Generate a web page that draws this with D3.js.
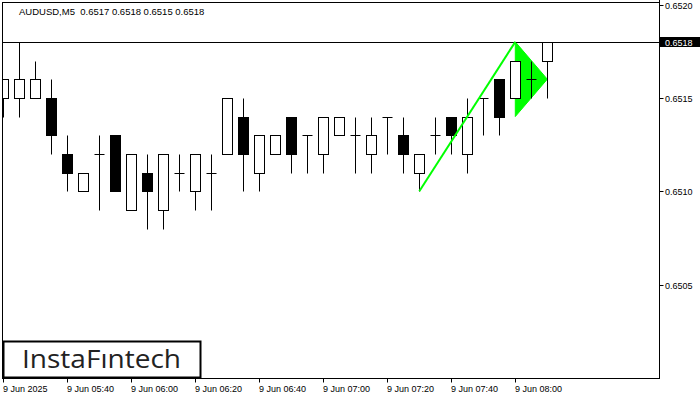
<!DOCTYPE html>
<html><head><meta charset="utf-8">
<script src="https://cdn.jsdelivr.net/npm/d3@7"></script>
<style>body{margin:0;background:#fff}svg{display:block}</style>
</head><body>
<svg id="c" width="700" height="400"></svg>
<script>
const times = ["05:20","05:25","05:30","05:35","05:40","05:45","05:50","05:55","06:00","06:05","06:10","06:15","06:20","06:25","06:30","06:35","06:40","06:45","06:50","06:55","07:00","07:05","07:10","07:15","07:20","07:25","07:30","07:35","07:40","07:45","07:50","07:55","08:00","08:05","08:10"];
const opens  = [0.6515,0.6515,0.6515,0.6515,0.6512,0.6510,0.6512,0.6513,0.6509,0.6511,0.6509,0.6511,0.6510,0.6511,0.6512,0.6514,0.6511,0.6512,0.6514,0.6513,0.6512,0.6513,0.6513,0.6512,0.6514,0.6513,0.6511,0.6513,0.6514,0.6512,0.6515,0.6516,0.6515,0.6516,0.6517];
const highs  = [0.6516,0.6518,0.6517,0.6516,0.6513,0.6511,0.6513,0.6513,0.6512,0.6512,0.6512,0.6512,0.6512,0.6512,0.6515,0.6515,0.6513,0.6513,0.6514,0.6513,0.6514,0.6514,0.6514,0.6514,0.6514,0.6514,0.6512,0.6514,0.6514,0.6515,0.6515,0.6516,0.6517,0.6517,0.6518];
const lows   = [0.6514,0.6514,0.6515,0.6512,0.6510,0.6510,0.6509,0.6510,0.6509,0.6508,0.6508,0.6510,0.6509,0.6509,0.6512,0.6510,0.6510,0.6512,0.6511,0.6511,0.6511,0.6513,0.6511,0.6511,0.6512,0.6511,0.6510,0.6512,0.6512,0.6511,0.6513,0.6513,0.6515,0.6515,0.6515];
const closes = [0.6516,0.6516,0.6516,0.6513,0.6511,0.6511,0.6512,0.6510,0.6512,0.6510,0.6512,0.6511,0.6512,0.6511,0.6515,0.6512,0.6513,0.6513,0.6512,0.6513,0.6514,0.6514,0.6513,0.6513,0.6514,0.6512,0.6512,0.6513,0.6513,0.6514,0.6515,0.6514,0.6517,0.6516,0.6518];
const yTicks = [0.6505,0.6510,0.6515,0.6520];
const xTickIdx = [0,4,8,12,16,20,24,28,32];
const xTickLabels = ["9 Jun 2025","9 Jun 05:40","9 Jun 06:00","9 Jun 06:20","9 Jun 06:40","9 Jun 07:00","9 Jun 07:20","9 Jun 07:40","9 Jun 08:00"];
const title = "AUDUSD,M5  0.6517 0.6518 0.6515 0.6518";
const lastPrice = 0.6518;
const poleStart = {i:26, p:0.6510};
const poleEnd = {i:32, p:0.6518};
const pennant = [{i:32,p:0.6518},{i:32,p:0.6514},{i:34,p:0.6516}];

const svg = d3.select("#c");
const L = 2.5, R = 659.5, T = 2.5, B = 378.5;
const x = d3.scaleLinear().domain([0, 34]).range([3.3, 547.3]);
const y = d3.scaleLinear().domain([0.6500, 0.6520]).range([378, 4.5]);
const font = "'Liberation Sans', Arial, sans-serif";

svg.append("defs").append("clipPath").attr("id","pc")
  .append("rect").attr("x", 3).attr("y", 3).attr("width", R - 3).attr("height", B - 3);

// frame
svg.append("rect").attr("x", L).attr("y", T).attr("width", R - L).attr("height", B - T)
  .attr("fill", "#fff").attr("stroke", "#000").attr("stroke-width", 1);

const g = svg.append("g").attr("clip-path", "url(#pc)");

// pennant triangle (background)
g.append("path")
  .attr("d", d3.line().x(d => x(d.i)).y(d => y(d.p))(pennant) + "Z")
  .attr("fill", "#00ff00").attr("stroke", "#00ff00").attr("stroke-width", 1);

// last price line
g.append("line").attr("x1", L).attr("x2", R)
  .attr("y1", Math.round(y(lastPrice)) + 0.5).attr("y2", Math.round(y(lastPrice)) + 0.5)
  .attr("stroke", "#000").attr("stroke-width", 1);

const data = times.map((t, i) => ({i, o: opens[i], h: highs[i], l: lows[i], c: closes[i]}));
const cx = d => Math.round(x(d.i)) + 0.5;
const py = v => Math.round(y(v)) + 0.5;

// wicks
g.selectAll("line.wick").data(data).join("line").attr("class","wick")
  .attr("x1", cx).attr("x2", cx).attr("y1", d => py(d.h)).attr("y2", d => py(d.l))
  .attr("stroke", "#000").attr("stroke-width", 1);

// bodies
g.selectAll("rect.body").data(data.filter(d => d.o !== d.c)).join("rect").attr("class","body")
  .attr("x", d => cx(d) - 5).attr("width", 10)
  .attr("y", d => py(Math.max(d.o, d.c))).attr("height", d => Math.abs(py(d.o) - py(d.c)))
  .attr("fill", d => d.c > d.o ? "#fff" : "#000").attr("stroke", "#000").attr("stroke-width", 1);

// doji
g.selectAll("line.doji").data(data.filter(d => d.o === d.c)).join("line").attr("class","doji")
  .attr("x1", d => cx(d) - 5).attr("x2", d => cx(d) + 5)
  .attr("y1", d => py(d.o)).attr("y2", d => py(d.o))
  .attr("stroke", "#000").attr("stroke-width", 1);

// pole
g.append("line")
  .attr("x1", x(poleStart.i)).attr("y1", y(poleStart.p))
  .attr("x2", x(poleEnd.i)).attr("y2", y(poleEnd.p))
  .attr("stroke", "#00ff00").attr("stroke-width", 2);

// right axis
svg.append("line").attr("x1", R).attr("x2", R).attr("y1", 0).attr("y2", B).attr("stroke","#000");
yTicks.forEach(v => {
  const yy = Math.round(y(v)) + 0.5;
  svg.append("line").attr("x1", R).attr("x2", R + 4).attr("y1", yy).attr("y2", yy).attr("stroke","#000");
  svg.append("text").attr("x", 665).attr("y", yy + 3.5).text(d3.format(".4f")(v))
    .attr("font-family", font).attr("font-size", 9).attr("fill", "#000");
});
// last price label
const ly = Math.round(y(lastPrice));
svg.append("rect").attr("x", R + 0.5).attr("y", ly - 5).attr("width", 700 - R).attr("height", 10).attr("fill", "#000");
svg.append("text").attr("x", 665).attr("y", ly + 3.5).text(d3.format(".4f")(lastPrice))
  .attr("font-family", font).attr("font-size", 9).attr("fill", "#fff");

// bottom axis
xTickIdx.forEach((idx, k) => {
  const xx = Math.round(x(idx)) + 0.5;
  svg.append("line").attr("x1", xx).attr("x2", xx).attr("y1", B).attr("y2", B + 4).attr("stroke","#000");
  svg.append("text").attr("x", xx - 0.5).attr("y", 392).text(xTickLabels[k])
    .attr("font-family", font).attr("font-size", 9).attr("fill", "#000");
});

// title
svg.append("text").attr("x", 19).attr("y", 15).text(title).attr("xml:space","preserve")
  .style("white-space","pre")
  .attr("font-family", font).attr("font-size", 9.5).attr("fill", "#000");

// logo
svg.append("rect").attr("x", 3.5).attr("y", 341.5).attr("width", 197).attr("height", 36)
  .attr("fill", "#fff").attr("stroke", "#000").attr("stroke-width", 2);
svg.append("text").attr("x", 22).attr("y", 368).text("InstaFıntech")
  .attr("textLength", 159).attr("lengthAdjust", "spacingAndGlyphs")
  .attr("font-family", "'Open Sans', Lato, sans-serif").attr("font-weight", 500)
  .attr("font-size", 26).attr("fill", "#222");
</script>
</body></html>
